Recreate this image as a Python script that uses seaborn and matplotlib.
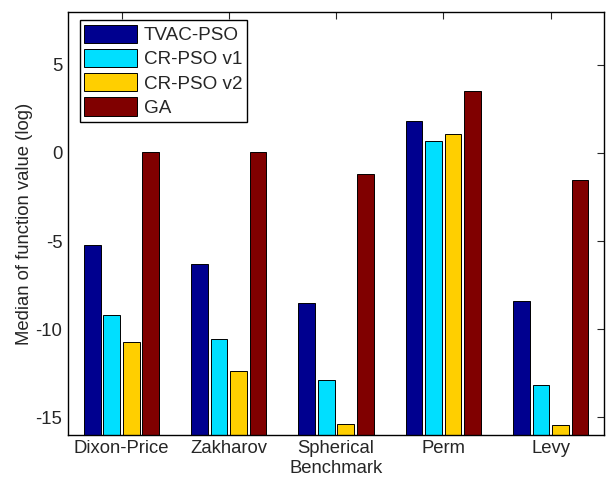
import pandas as pd
import matplotlib
matplotlib.use("Agg")
import matplotlib.pyplot as plt
import seaborn as sns

benchmarks = ["Dixon-Price", "Zakharov", "Spherical", "Perm", "Levy"]
algorithms = ["TVAC-PSO", "CR-PSO v1", "CR-PSO v2", "GA"]
tvac_pso = [-5.2, -6.3, -8.5, 1.8, -8.4]
cr_pso_v1 = [-9.2, -10.55, -12.9, 0.7, -13.15]
cr_pso_v2 = [-10.75, -12.4, -15.4, 1.05, -15.45]
ga = [0.05, 0.05, -1.2, 3.5, -1.55]
colors = ["#00008F", "#00DFFF", "#FFCF00", "#800000"]
base = -16

rows = []
for alg, vals in zip(algorithms, [tvac_pso, cr_pso_v1, cr_pso_v2, ga]):
    for b, v in zip(benchmarks, vals):
        rows.append({"Benchmark": b, "Algorithm": alg, "value": v})
df = pd.DataFrame(rows)

sns.set_style("white")
plt.rcParams["font.family"] = ["Liberation Sans", "DejaVu Sans"]
plt.rcParams["axes.unicode_minus"] = False
fs = 13.3

fig = plt.figure(figsize=(6.06, 4.8), dpi=100)
ax = fig.add_axes([0.112, 0.094, 0.885, 0.881])

sns.barplot(data=df, x="Benchmark", y="value", hue="Algorithm",
            order=benchmarks, hue_order=algorithms, palette=colors,
            width=0.727, gap=0.15, edgecolor="black", linewidth=0.7,
            saturation=1, ax=ax)

# bars grow from the bottom of the axis, like MATLAB's BaseValue
for cont in ax.containers:
    for p in cont.patches:
        h = p.get_height()
        p.set_y(base)
        p.set_height(h - base)

ax.set_ylim(-16, 8)
ax.set_xlim(-0.5, 4.5)
ax.set_yticks([-15, -10, -5, 0, 5])
ax.set_xlabel("Benchmark", fontsize=fs, labelpad=2)
ax.set_ylabel("Median of function value (log)", fontsize=fs, labelpad=1.5)
ax.tick_params(direction="in", top=True, right=True, length=5, width=0.8,
               labelsize=fs, pad=4)
for s in ax.spines.values():
    s.set_visible(True)
    s.set_color("black")
    s.set_linewidth(1.0)

leg = ax.legend(loc="upper left", bbox_to_anchor=(0.022, 0.981), title=None,
                prop={"size": 13.6}, frameon=True, fancybox=False,
                edgecolor="black", handlelength=2.8, handleheight=1.1,
                labelspacing=0.25, handletextpad=0.35, borderpad=0.25,
                borderaxespad=0)
leg.get_frame().set_linewidth(1.0)
leg.get_frame().set_alpha(1)

plt.savefig("out.png", dpi=100)
